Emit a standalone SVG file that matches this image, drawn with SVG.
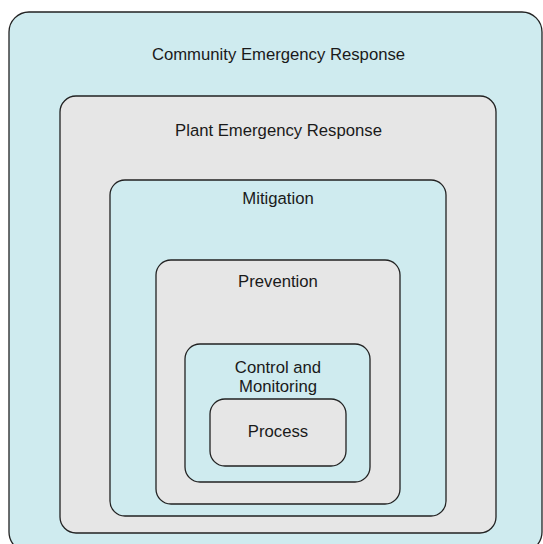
<svg xmlns="http://www.w3.org/2000/svg" width="543" height="544" viewBox="0 0 543 544">
<style>
.b{fill:#cfebef;stroke:#222;stroke-width:1.3}
.g{fill:#e6e6e6;stroke:#222;stroke-width:1.3}
text{font-family:"Liberation Sans",Arial,sans-serif;font-size:16.7px;fill:#1a1a1a;text-anchor:middle}
</style>
<rect width="543" height="544" fill="#fff"/>
<g id="community">
<rect class="b" x="9" y="12" width="533" height="540" rx="20"/>
<text x="278.5" y="60">Community Emergency Response</text>
</g>
<g id="plant">
<rect class="g" x="60" y="96" width="436" height="437" rx="16"/>
<text x="278.5" y="136">Plant Emergency Response</text>
</g>
<g id="mitigation">
<rect class="b" x="110" y="180" width="336" height="336" rx="15"/>
<text x="278" y="204">Mitigation</text>
</g>
<g id="prevention">
<rect class="g" x="156" y="260" width="244" height="244" rx="15"/>
<text x="278" y="287">Prevention</text>
</g>
<g id="control">
<rect class="b" x="185" y="344" width="185" height="138" rx="15"/>
<text x="278" y="373">Control and</text>
<text x="278" y="392">Monitoring</text>
</g>
<g id="process">
<rect class="g" x="210" y="399" width="136" height="67" rx="15"/>
<text x="278" y="437">Process</text>
</g>
<g id="connectors"></g>
</svg>
